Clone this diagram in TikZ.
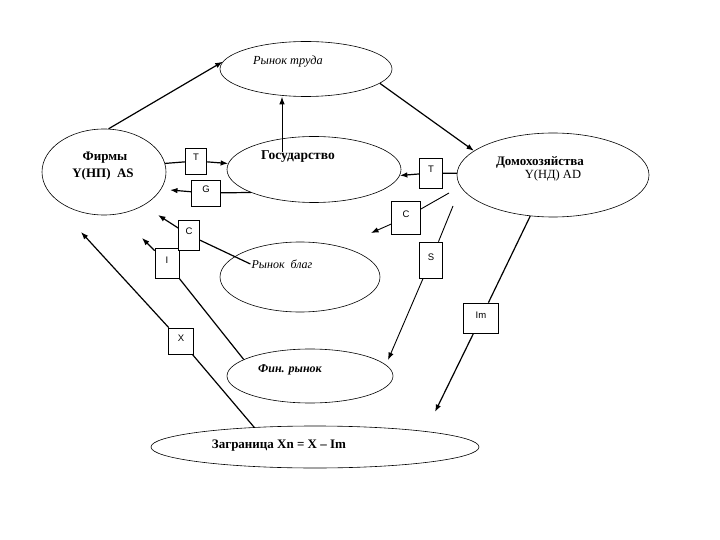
\documentclass[tikz,border=0pt]{standalone}
\usepackage{fontspec}
\setmainfont{Liberation Serif}
\newfontfamily\boxfont{Liberation Sans}
\usetikzlibrary{shapes.geometric,arrows.meta}
\begin{document}
\begin{tikzpicture}[x=1pt,y=-1pt,
  oval/.style={draw,ellipse,line width=0.6pt,inner sep=0pt},
  box/.style={draw,fill=white,line width=0.7pt,inner sep=0pt,
    font=\boxfont\fontsize{9.5}{10}\selectfont,text height=7pt,text depth=7pt},
  arr/.style={line width=1.2pt,-{Latex[length=7.5pt,width=5.5pt]}},
  thin arr/.style={line width=0.9pt,-{Latex[length=7.5pt,width=5.5pt]}},
  lbl/.style={inner sep=1pt}]
\useasboundingbox (0,0) rectangle (720,540);

% ellipses
\node[oval,minimum width=172pt,minimum height=55pt] (lab) at (306,69) {};
\node[oval,minimum width=124pt,minimum height=86pt] (firm) at (104,172) {};
\node[oval,minimum width=174pt,minimum height=66pt] (gov) at (314,169.5) {};
\node[oval,minimum width=192pt,minimum height=84pt] (hh) at (553,175) {};
\node[oval,minimum width=160pt,minimum height=70pt] (goods) at (300,277) {};
\node[oval,minimum width=166pt,minimum height=54pt] (fin) at (310,376) {};
\node[oval,minimum width=328pt,minimum height=42pt] (abroad) at (315,447) {};

% texts
\node[lbl,font=\itshape\fontsize{12.3}{14}\selectfont] (labtext) at (288,62) {Рынок труда};
\node[lbl,font=\bfseries\fontsize{13}{14}\selectfont] (firmtext1) at (105,158) {Фирмы};
\node[lbl,font=\bfseries\fontsize{13}{14}\selectfont] (firmtext2) at (103,174) {Y(НП)\ \ AS};
\node[lbl,font=\bfseries\fontsize{13.5}{15}\selectfont] (govtext) at (298,157) {Государство};
\node[lbl,font=\bfseries\fontsize{13}{14}\selectfont] (hhtext1) at (540,162) {Домохозяйства};
\node[lbl,font=\fontsize{12.5}{14}\selectfont] (hhtext2) at (553,175) {Y(НД) AD};
\node[lbl,font=\itshape\fontsize{12}{14}\selectfont] (goodstext) at (282,264) {Рынок\ \ благ};
\node[lbl,font=\bfseries\itshape\fontsize{12}{14}\selectfont] (fintext) at (290,370) {Фин. рынок};
\node[lbl,font=\bfseries\fontsize{13}{14}\selectfont] (abroadtext) at (279,446) {Заграница Xn = X – Im};

% boxes
\node[box,minimum width=21pt,minimum height=26pt] (t1) at (196,161) {T};
\node[box,minimum width=29pt,minimum height=26pt] (g1) at (206,193) {G};
\node[box,minimum width=23pt,minimum height=30pt] (t2) at (431,173) {T};
\node[box,minimum width=29pt,minimum height=33pt] (c2) at (406,217.5) {C};
\node[box,minimum width=23pt,minimum height=36pt] (s) at (431,260) {S};
\node[box,minimum width=24pt,minimum height=30pt] (i) at (167,263) {I};
\node[box,minimum width=21pt,minimum height=30pt] (c1) at (189,235) {C};
\node[box,minimum width=35pt,minimum height=30pt] (im) at (481,318) {Im};
\node[box,minimum width=25pt,minimum height=26pt] (x) at (181,341) {X};

% free ends
\coordinate (govtop) at (282,152);
\coordinate (gtip) at (170,190);
\coordinate (c2start) at (449,193);
\coordinate (c2tip) at (371,233);
\coordinate (sstart) at (453,206);
\coordinate (stip) at (388,360);
\coordinate (c1tip) at (158,215);
\coordinate (itip) at (142,238);
\coordinate (xtip) at (81,232);
\coordinate (imtip) at (435,412);

% connectors
\draw[arr] (firm.84) -- (lab.175);
\draw[arr] (lab.-11) -- (hh.163);
\draw[thin arr] (govtop) -- (govtop |- lab.south);
\draw[arr] (firm.8) -- (t1) -- (gov.176);
\draw[arr] (gov.200) -- (g1) -- (gtip);
\draw[arr] (hh.179) -- (t2) -- (gov.-4);
\draw[thin arr] (c2start) -- (c2) -- (c2tip);
\draw[thin arr] (sstart) -- (s) -- (stip);
\draw[arr] (goodstext.west) -- (c1) -- (c1tip);
\draw[arr] (fin.166) -- (i) -- (itip);
\draw[arr] (abroad.162) -- (x) -- (xtip);
\draw[arr] (hh.241) -- (im) -- (imtip);
\end{tikzpicture}
\end{document}
